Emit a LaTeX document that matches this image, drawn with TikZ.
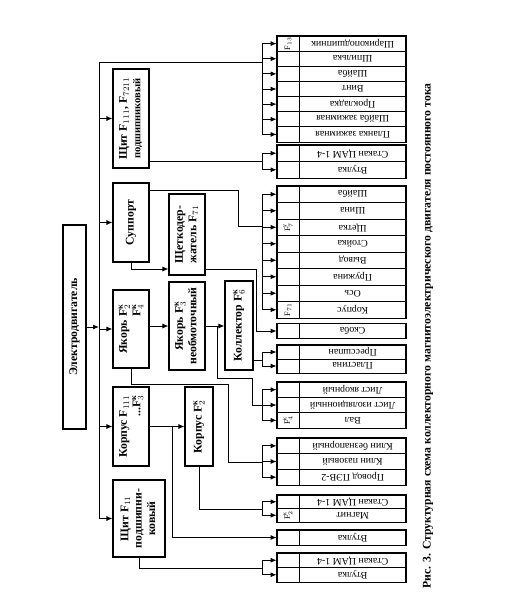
\documentclass[tikz,border=0pt]{standalone}
\usepackage{amsmath}
\usepackage{fontspec}
\setmainfont{Liberation Serif}
\usepackage{tikz}
\usetikzlibrary{positioning, arrows.meta}

\newcommand{\vtext}[2][c]{\rotatebox{90}{\begin{tabular}{@{}#1@{}}#2\end{tabular}}}
\newcommand{\Fk}[1]{F$^{\text{к}}_{#1}$}
\renewcommand{\arraystretch}{0.95}

\tikzset{
  blk/.style={draw, line width=0.9pt, inner sep=1pt, font=\bfseries},
  cellf/.style={draw, line width=0.6pt, minimum width=0.66cm, minimum height=#1, inner sep=0pt, font=\scriptsize},
  cellt/.style={draw, line width=0.6pt, minimum width=3.18cm, minimum height=#1, inner sep=0pt, font=\fontsize{8.5}{9}\selectfont},
  grp/.style={line width=1pt},
  arr/.style={-{Latex[length=1.8mm,width=1.5mm]}, line width=0.8pt},
  wire/.style={line width=0.8pt},
}

\begin{document}
\begin{tikzpicture}[x=0.03cm, y=-0.03cm]
\useasboundingbox (0,0) rectangle (531,602);

% Motor and first level
\node[blk, minimum width=0.69cm, minimum height=6.12cm] (motor) at (74.5,327) {\vtext{Электродвигатель}};
\node[blk, minimum width=1.08cm, minimum height=2.97cm] (shield1) at (131,118.5) {\vtext{Щит F$_{111}$, F$_{7211}$\\{\small подшипниковый}}};
\node[blk, minimum width=1.08cm, minimum height=2.37cm] (support) at (131,222.5) {\vtext{Суппорт}};
\node[blk, minimum width=1.08cm, minimum height=2.34cm] (armature) at (131,329) {\vtext[r]{Якорь \Fk{2}\\\Fk{4}}};
\node[blk, minimum width=1.08cm, minimum height=2.37cm] (housing) at (131,426.5) {\vtext[r]{Корпус F$_{111}$\\...\Fk{3}}};
\node[blk, minimum width=1.56cm, minimum height=2.31cm] (shield2) at (139,518.5) {\vtext{Щит F$_{11}$\\подшипни-\\ковый}};

% Second level
\node[blk, minimum width=1.08cm, minimum height=2.43cm] (brush) at (187,234.5) {\vtext{Щеткодер-\\жатель F$_{71}$}};
\node[blk, minimum width=1.08cm, minimum height=2.64cm] (core) at (187,326) {\vtext{Якорь \Fk{3}\\необмоточный}};
\node[blk, minimum width=0.84cm, minimum height=2.67cm] (comm) at (239,325.5) {\vtext{Коллектор \Fk{6}}};
\node[blk, minimum width=0.84cm, minimum height=2.37cm] (housing2) at (199,426.5) {\vtext{Корпус \Fk{2}}};

% Bracket points of the parts column
\coordinate (bA) at (262,62);
\coordinate (bB) at (262,161);
\coordinate (bC) at (262,226);
\coordinate (bE) at (262,360);
\coordinate (bF) at (262,405);
\coordinate (bG) at (262,462);
\coordinate (bH) at (262,509);
\coordinate (bJ) at (262,568);

% Parts column
\foreach \txt/\lab [count=\i] in {Шарикоподшипник/F$_{13}$, Шпилька/, Шайба/, Винт/, Прокладка/, Шайба зажимная/, Планка зажимная/} {
  \node[cellf=0.454cm] (A\i) at (288,28.43+15.14*\i) {\rotatebox{90}{\lab}};
  \node[cellt=0.454cm, right=0pt of A\i] (At\i) {\rotatebox{180}{\txt}};
  \draw[arr] (A\i.west -| bA) -- (A\i.west);
}
\draw[wire] (A1.west -| bA) -- (A7.west -| bA);
\draw[grp] (A1.north west) rectangle (At7.south east);

\foreach \txt [count=\i] in {Стакан ЦАМ 1-4, Втулка} {
  \node[cellf=0.495cm] (B\i) at (288,136.75+16.5*\i) {};
  \node[cellt=0.495cm, right=0pt of B\i] (Bt\i) {\rotatebox{180}{\txt}};
  \draw[arr] (B\i.west -| bB) -- (B\i.west);
}
\draw[wire] (B1.west -| bB) -- (B2.west -| bB);
\draw[grp] (B1.north west) rectangle (Bt2.south east);

\foreach \txt/\lab [count=\i] in {Шайба/, Шина/, Щетка/F$_7^{\text{у}}$, Стойка/, Вывод/, Пружина/, Ось/, Корпус/F$_{71}$} {
  \node[cellf=0.495cm] (C\i) at (288,177.75+16.5*\i) {\rotatebox{90}{\lab}};
  \node[cellt=0.495cm, right=0pt of C\i] (Ct\i) {\rotatebox{180}{\txt}};
  \draw[arr] (C\i.west -| bC) -- (C\i.west);
}
\draw[wire] (C1.west -| bC) -- (C8.west -| bC);
\draw[grp] (C1.north west) rectangle (Ct8.south east);

\node[cellf=0.45cm] (D1) at (288,331) {};
\node[cellt=0.45cm, right=0pt of D1] (Dt1) {\rotatebox{180}{Скоба}};
\draw[grp] (D1.north west) rectangle (Dt1.south east);

\foreach \txt [count=\i] in {Прессшпан, Пластина} {
  \node[cellf=0.42cm] (E\i) at (288,338+14*\i) {};
  \node[cellt=0.42cm, right=0pt of E\i] (Et\i) {\rotatebox{180}{\txt}};
  \draw[arr] (E\i.west -| bE) -- (E\i.west);
}
\draw[wire] (E1.west -| bE) -- (E2.west -| bE);
\draw[grp] (E1.north west) rectangle (Et2.south east);

\foreach \txt/\lab [count=\i] in {Лист якорный/, Лист изоляционный/, Вал/\Fk{4}} {
  \node[cellf=0.46cm] (F\i) at (288,374.33+15.33*\i) {\rotatebox{90}{\lab}};
  \node[cellt=0.46cm, right=0pt of F\i] (Ft\i) {\rotatebox{180}{\txt}};
  \draw[arr] (F\i.west -| bF) -- (F\i.west);
}
\draw[wire] (F1.west -| bF) -- (F3.west -| bF);
\draw[grp] (F1.north west) rectangle (Ft3.south east);

\foreach \txt [count=\i] in {Клин безнапорный, Клин пазовый, Провод ПЭВ-2} {
  \node[cellf=0.47cm] (G\i) at (288,430.17+15.67*\i) {};
  \node[cellt=0.47cm, right=0pt of G\i] (Gt\i) {\rotatebox{180}{\txt}};
  \draw[arr] (G\i.west -| bG) -- (G\i.west);
}
\draw[wire] (G1.west -| bG) -- (G3.west -| bG);
\draw[grp] (G1.north west) rectangle (Gt3.south east);

\foreach \txt/\lab [count=\i] in {Стакан ЦАМ 1-4/, Магнит/\Fk{2}} {
  \node[cellf=0.405cm] (H\i) at (288,488.25+13.5*\i) {\rotatebox{90}{\lab}};
  \node[cellt=0.405cm, right=0pt of H\i] (Ht\i) {\rotatebox{180}{\txt}};
  \draw[arr] (H\i.west -| bH) -- (H\i.west);
}
\draw[wire] (H1.west -| bH) -- (H2.west -| bH);
\draw[grp] (H1.north west) rectangle (Ht2.south east);

\node[cellf=0.45cm] (I1) at (288,537.5) {};
\node[cellt=0.45cm, right=0pt of I1] (It1) {\rotatebox{180}{Втулка}};
\draw[grp] (I1.north west) rectangle (It1.south east);

\foreach \txt [count=\i] in {Стакан ЦАМ 1-4, Втулка} {
  \node[cellf=0.435cm] (J\i) at (288,545.75+14.5*\i) {};
  \node[cellt=0.435cm, right=0pt of J\i] (Jt\i) {\rotatebox{180}{\txt}};
  \draw[arr] (J\i.west -| bJ) -- (J\i.west);
}
\draw[wire] (J1.west -| bJ) -- (J2.west -| bJ);
\draw[grp] (J1.north west) rectangle (Jt2.south east);

% Bus from the motor
\coordinate (bustop) at (99,62);
\draw[wire] (bustop) -- (bustop |- shield2.west);
\draw[arr] (motor.east) -- (motor.east -| bustop);
\foreach \n in {shield1, support, armature, housing, shield2}
  \draw[arr] (bustop |- \n.west) -- (\n.west);
\draw[wire] (bustop) -- (bA);

% Links to the parts
\draw[wire] (shield1.east |- bB) -- (bB);
\coordinate (kC) at (238,190);
\draw[wire] (support.east |- kC) -- (kC) |- (bC);
\coordinate (kS) at (131,269);
\draw[arr] (support.south) -- (kS) -- (kS -| brush.west);
\coordinate (kD) at (256,269);
\draw[arr] (kS -| brush.east) -- (kD) |- (D1.west);
\draw[arr] (armature.east |- core.west) -- (core.west);
\draw[arr] (core.east) -- (core.east -| comm.west);
\coordinate (kF) at (217,378);
\coordinate (kF2) at (252,378);
\draw[wire] (core.east -| kF) -- (kF) -- (kF2) |- (bF);
\draw[wire] (comm.east |- bE) -- (bE);
\coordinate (kG) at (131,384);
\coordinate (kG2) at (228,384);
\draw[wire] (armature.south) -- (kG) -- (kG2) |- (bG);
\draw[arr] (housing.east |- housing2.west) -- (housing2.west);
\coordinate (kI) at (172,426.5);
\draw[arr] (kI) -- (kI |- I1.west) -- (I1.west);
\draw[wire] (housing2.south) |- (bH);
\draw[wire] (shield2.south) |- (bJ);

% Caption
\node[rotate=90, font=\bfseries\fontsize{10}{12}\selectfont] (caption) at (428,336) {Рис. 3. Структурная схема коллекторного магнитоэлектрического двигателя постоянного тока};

\end{tikzpicture}
\end{document}
